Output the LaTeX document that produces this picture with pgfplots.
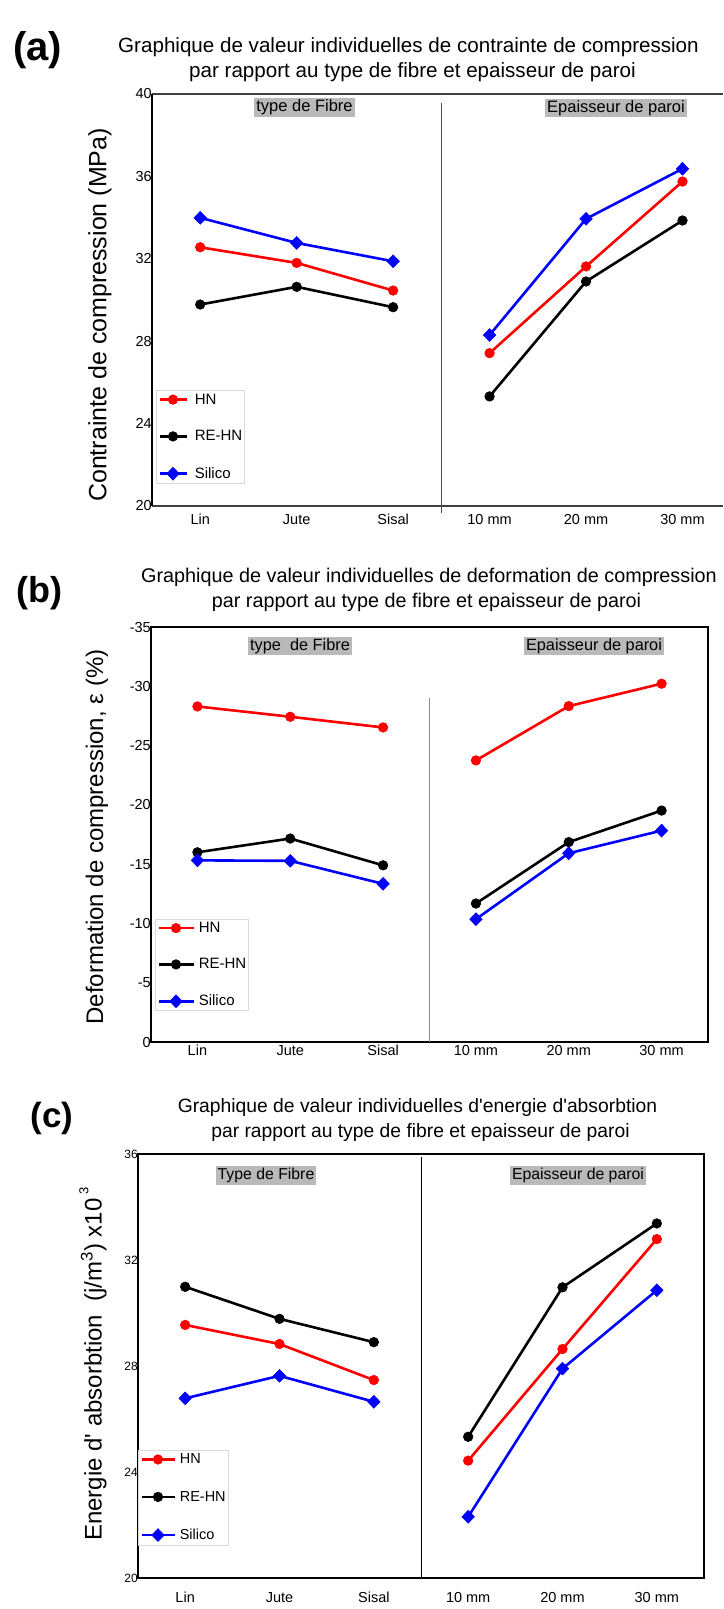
\documentclass[border=0pt]{standalone}
\usepackage{pgfplots}
\pgfplotsset{compat=1.18}
\usepackage{fontspec}
\setmainfont{Liberation Sans}
\newcommand{\fs}[1]{\fontsize{#1}{#1}\selectfont}

\tikzset{
  hn/.style={draw=red, line width=2.6pt, mark=*, mark size=4.8pt, mark options={solid, line width=0.6pt, fill=red, draw=red}},
  rehn/.style={draw=black, line width=2.6pt, mark=*, mark size=4.8pt, mark options={solid, line width=0.6pt, fill=black, draw=black}},
  sil/.style={draw=blue, line width=2.6pt, mark=diamond*, mark size=6.4pt, mark options={solid, line width=0.6pt, fill=blue, draw=blue, xscale=1.3}},
}
\pgfplotsset{
  panel/.style={scale only axis, anchor=north west, clip=false, unbounded coords=jump,
    xtick={0,1,2,3,4,5}, xticklabels={Lin,Jute,Sisal,10 mm,20 mm,30 mm},
    major tick length=0pt, minor tick num=0,
    xticklabel style={font=\fs{14.5}, anchor=base, inner sep=0pt},
    yticklabel style={anchor=east, inner sep=0pt},
    legend cell align=left},
}

\begin{document}
\begin{tikzpicture}
\useasboundingbox (0pt,0pt) rectangle (723pt,-1609pt);

% ---------------- (a) ----------------
\begin{axis}[panel, at={(152pt,-94pt)}, width=571pt, height=412pt,
  xmin=-0.5, xmax=5.42, ymin=20, ymax=40,
  axis x line*=box, axis y line*=left,
  x axis line style={black!75, line width=1.3pt},
  y axis line style={black, line width=1.4pt},
  ytick={20,24,28,32,36,40}, yticklabels={20,24,28,32,36,40},
  yticklabel style={font=\fs{14.5}},
  xticklabel style={yshift=-18pt},
  legend style={at={(0.007,0.2816)}, anchor=north west, draw=black!15, fill=none,
    font=\fs{15}, inner xsep=2pt, inner ysep=3.5pt, row sep=25pt, nodes={inner sep=0pt},
    /tikz/every odd column/.append style={column sep=7pt}},
  legend image code/.code={\draw[mark repeat=2,mark phase=2,#1] plot coordinates {(0pt,0pt) (13.5pt,0pt) (27pt,0pt)};},
]
\addplot[forget plot, black!70, line width=1pt, mark=none] coordinates {(2.5,39.56) (2.5,19.66)};
\addplot[hn, line width=2.6pt]   coordinates {(0,32.56) (1,31.80) (2,30.46) (2.5,nan) (3,27.42) (4,31.63) (5,35.75)};
\addplot[rehn, line width=2.6pt] coordinates {(0,29.78) (1,30.64) (2,29.65) (2.5,nan) (3,25.32) (4,30.90) (5,33.86)};
\addplot[sil, line width=2.6pt]  coordinates {(0,33.99) (1,32.77) (2,31.88) (2.5,nan) (3,28.30) (4,33.94) (5,36.37)};
\legend{HN,RE-HN,Silico}
\end{axis}
\node[font=\bfseries\fs{40}] at (37.5pt,-50pt) {(a)};
\node[font=\fs{20.6}] at (408.5pt,-47pt) {Graphique de valeur individuelles de contrainte de compression};
\node[font=\fs{20.6}] at (412.5pt,-72pt) {par rapport au type de fibre et epaisseur de paroi};
\node[font=\fs{25}, rotate=90] at (100pt,-315pt) {Contrainte de compression (MPa)};
\node[font=\fs{16.5}, fill=gray!55, inner xsep=2pt, inner ysep=1.8pt] at (304.5pt,-107.5pt) {type de Fibre};
\node[font=\fs{16.5}, fill=gray!55, inner xsep=2pt, inner ysep=1.8pt] at (616pt,-108pt) {Epaisseur de paroi};

% ---------------- (b) ----------------
\begin{axis}[panel, at={(151pt,-627pt)}, width=557pt, height=415pt,
  xmin=-0.5, xmax=5.5, ymin=-35, ymax=0, y dir=reverse,
  axis line style={black, line width=1.8pt},
  ytick={-35,-30,-25,-20,-15,-10,-5,0}, yticklabels={-35,-30,-25,-20,-15,-10,-5,0},
  yticklabel style={font=\fs{14.5}},
  xticklabel style={yshift=-13pt},
  legend style={at={(0.0072,0.2964)}, anchor=north west, draw=black!15, fill=none,
    font=\fs{15}, inner xsep=2pt, inner ysep=3pt, row sep=24.5pt, nodes={inner sep=0pt},
    /tikz/every odd column/.append style={column sep=4pt}},
  legend image code/.code={\draw[mark repeat=2,mark phase=2,#1] plot coordinates {(0pt,0pt) (17.5pt,0pt) (35pt,0pt)};},
]
\addplot[forget plot, black!45, line width=1.6pt, mark=none] coordinates {(2.5,-29) (2.5,0)};
\addplot[hn, line width=2.6pt]   coordinates {(0,-28.30) (1,-27.43) (2,-26.53) (2.5,nan) (3,-23.75) (4,-28.33) (5,-30.22)};
\addplot[rehn, line width=2.6pt] coordinates {(0,-16.00) (1,-17.16) (2,-14.90) (2.5,nan) (3,-11.68) (4,-16.86) (5,-19.52)};
\addplot[sil, line width=2.6pt]  coordinates {(0,-15.32) (1,-15.28) (2,-13.34) (2.5,nan) (3,-10.36) (4,-15.92) (5,-17.83)};
\legend{HN,RE-HN,Silico}
\end{axis}
\node[font=\bfseries\fs{36}] at (39pt,-593pt) {(b)};
\node[font=\fs{19.8}] at (429pt,-577pt) {Graphique de valeur individuelles de deformation de compression};
\node[font=\fs{19.8}] at (426.5pt,-602pt) {par rapport au type de fibre et epaisseur de paroi};
\node[font=\fs{24}, rotate=90] at (97pt,-837pt) {Deformation de compression, ε (\%)};
\node[font=\fs{16.3}, fill=gray!55, inner xsep=2pt, inner ysep=1.8pt] at (300pt,-646pt) {type~~de Fibre};
\node[font=\fs{16.3}, fill=gray!55, inner xsep=2pt, inner ysep=1.8pt] at (594pt,-646pt) {Epaisseur de paroi};

% ---------------- (c) ----------------
\begin{axis}[panel, at={(138pt,-1154pt)}, width=566pt, height=424pt,
  xmin=-0.5, xmax=5.5, ymin=20, ymax=36,
  axis line style={black, line width=1.3pt},
  ytick={20,24,28,32,36}, yticklabels={20,24,28,32,36},
  yticklabel style={font=\fs{12}},
  xticklabel style={yshift=-24pt},
  legend style={at={(0.0,0.3019)}, anchor=north west, draw=black!15, fill=none,
    font=\fs{14.5}, inner xsep=2pt, inner ysep=3.5pt, row sep=26pt, nodes={inner sep=0pt},
    /tikz/every odd column/.append style={column sep=4pt}},
  legend image code/.code={\draw[mark repeat=2,mark phase=2,#1] plot coordinates {(0pt,0pt) (16.5pt,0pt) (33pt,0pt)};},
]
\addplot[forget plot, black, line width=1pt, mark=none] coordinates {(2.5,35.89) (2.5,20)};
\addplot[hn, line width=2.6pt]   coordinates {(0,29.55) (1,28.83) (2,27.47) (2.5,nan) (3,24.43) (4,28.64) (5,32.79)};
\addplot[rehn, line width=2.6pt] coordinates {(0,30.99) (1,29.78) (2,28.90) (2.5,nan) (3,25.33) (4,30.97) (5,33.38)};
\addplot[sil, line width=2.6pt]  coordinates {(0,26.78) (1,27.63) (2,26.65) (2.5,nan) (3,22.31) (4,27.90) (5,30.86)};
\legend{HN,RE-HN,Silico}
\end{axis}
\node[font=\bfseries\fs{35}] at (52pt,-1118pt) {(c)};
\node[font=\fs{19.3}] at (417.5pt,-1107pt) {Graphique de valeur individuelles d\textquotesingle energie d\textquotesingle absorbtion};
\node[font=\fs{19.3}] at (420.5pt,-1132pt) {par rapport au type de fibre et epaisseur de paroi};
\node[font=\fs{24}, rotate=90] at (93pt,-1364pt) {Energie d\textquotesingle{} absorbtion~~(j/m\textsuperscript{3}) x10\,\raisebox{0.55em}{\fs{13}3}};
\node[font=\fs{15.8}, fill=gray!55, inner xsep=2pt, inner ysep=1.8pt] at (266pt,-1175.5pt) {Type de Fibre};
\node[font=\fs{15.8}, fill=gray!55, inner xsep=2pt, inner ysep=1.8pt] at (578pt,-1175.5pt) {Epaisseur de paroi};
\end{tikzpicture}
\end{document}
